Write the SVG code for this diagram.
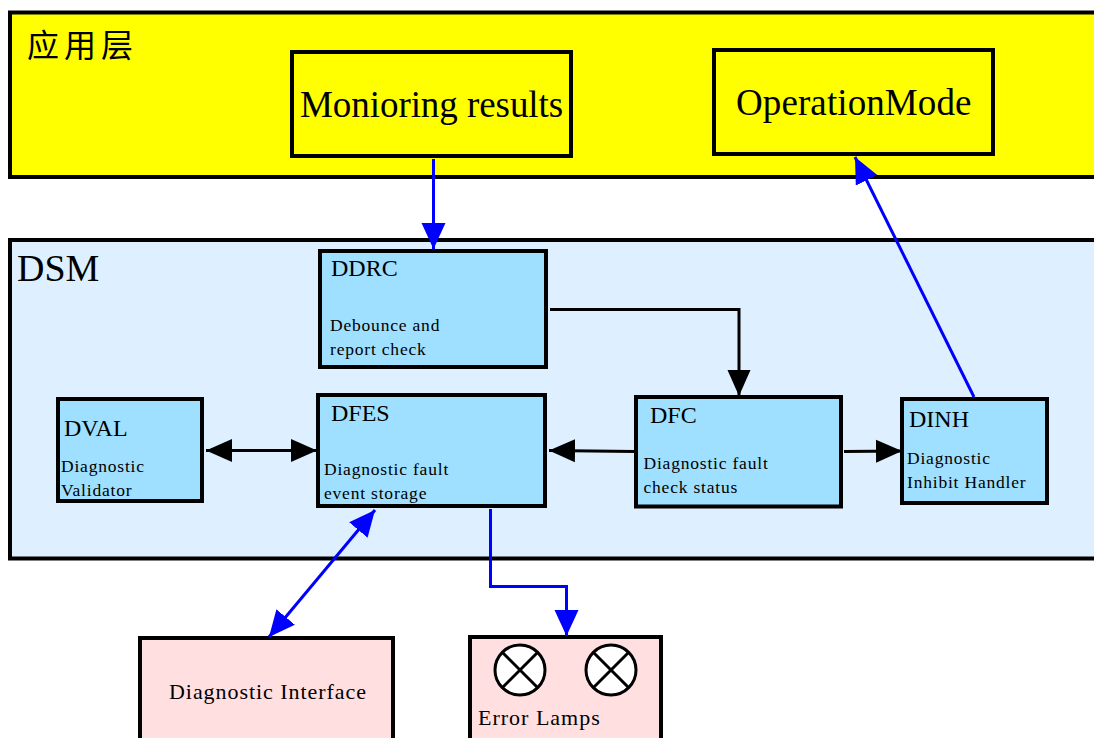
<svg xmlns="http://www.w3.org/2000/svg" width="1094" height="738" viewBox="0 0 1094 738">
<style>
text{font-family:"Liberation Serif","Noto Sans CJK SC",serif;fill:#000}
.b{stroke:#000;stroke-width:4}
.y{fill:#ffff00}.l{fill:#def0ff}.c{fill:#9fdfff}.p{fill:#ffdfe0}
.k{stroke:#000;stroke-width:3;fill:none}
.u{stroke:#0000ff;stroke-width:3;fill:none}
.s{font-size:17.5px;letter-spacing:.8px}.h{font-size:22px}.n{font-size:24px}.g{font-size:37px}
</style>
<defs>
<marker id="ka" markerUnits="userSpaceOnUse" markerWidth="28" markerHeight="26" refX="26" refY="12" orient="auto-start-reverse"><path d="M0 0.500L26 12L0 23.500z" fill="#000"/></marker>
<marker id="ua" markerUnits="userSpaceOnUse" markerWidth="28" markerHeight="26" refX="26" refY="12" orient="auto-start-reverse"><path d="M0 0L26 12L0 24z" fill="#0000ff"/></marker>
</defs>
<g id="app-layer"><rect class="b y" x="10" y="12.500" width="1090" height="164.500"/><text x="27" y="57" font-size="32" letter-spacing="5">应用层</text></g>
<g id="dsm"><rect class="b l" x="10" y="240" width="1090" height="318.500"/><text x="17" y="281" font-size="38">DSM</text></g>
<g id="monitoring"><rect class="b y" x="292" y="52" width="279" height="104"/><text class="g" x="300" y="117" letter-spacing="-.06">Monioring results</text></g>
<g id="operation"><rect class="b y" x="714" y="50" width="279" height="104"/><text class="g" x="736" y="115" letter-spacing=".1">OperationMode</text></g>
<g id="ddrc"><rect class="b c" x="320" y="251" width="226" height="116"/><text class="n" x="331" y="276">DDRC</text><text class="s" x="330" y="331">Debounce and</text><text class="s" x="330" y="355">report check</text></g>
<g id="dval"><rect class="b c" x="58" y="399" width="144" height="102"/><text class="n" x="64" y="436">DVAL</text><text class="s" x="61" y="472">Diagnostic</text><text class="s" x="61" y="496">Validator</text></g>
<g id="dfes"><rect class="b c" x="318" y="395" width="227" height="111"/><text class="n" x="331" y="421">DFES</text><text class="s" x="324" y="475">Diagnostic fault</text><text class="s" x="324" y="499">event storage</text></g>
<g id="dfc"><rect class="b c" x="636" y="397" width="205" height="109.500"/><text class="n" x="650" y="423">DFC</text><text class="s" x="643.500" y="469">Diagnostic fault</text><text class="s" x="643.500" y="493">check status</text></g>
<g id="dinh"><rect class="b c" x="902" y="399" width="145" height="104"/><text class="n" x="909" y="427">DINH</text><text class="s" x="907" y="464">Diagnostic</text><text class="s" x="907" y="488">Inhibit Handler</text></g>
<g id="diag"><rect class="b p" x="140" y="638" width="253" height="110"/><text class="h" x="169" y="699" letter-spacing=".95">Diagnostic Interface</text></g>
<g id="lamps"><rect class="b p" x="470" y="637" width="191" height="110"/>
<g fill="#fff" stroke="#000" stroke-width="3"><circle cx="520" cy="670" r="25"/><path d="M502 652L538 688M538 652L502 688"/><circle cx="611" cy="670" r="25"/><path d="M593 652L629 688M629 652L593 688"/></g>
<text class="h" x="478" y="725" letter-spacing="1">Error Lamps</text></g>
<g id="connectors">
<path class="u" d="M433.500 159V249" marker-end="url(#ua)"/>
<path class="u" d="M974 397L855 157" marker-end="url(#ua)"/>
<path class="k" d="M550 309.500H739V396" marker-end="url(#ka)"/>
<path class="k" d="M206 450.500H317" marker-start="url(#ka)" marker-end="url(#ka)"/>
<path class="k" d="M635 451.500L549 450.500" marker-end="url(#ka)"/>
<path class="k" d="M844 451.500L902 451" marker-end="url(#ka)"/>
<path class="u" d="M375 510L269 637" marker-start="url(#ua)" marker-end="url(#ua)"/>
<path class="u" d="M490.500 509V586.500H566.500V636" marker-end="url(#ua)"/>
</g>
</svg>
